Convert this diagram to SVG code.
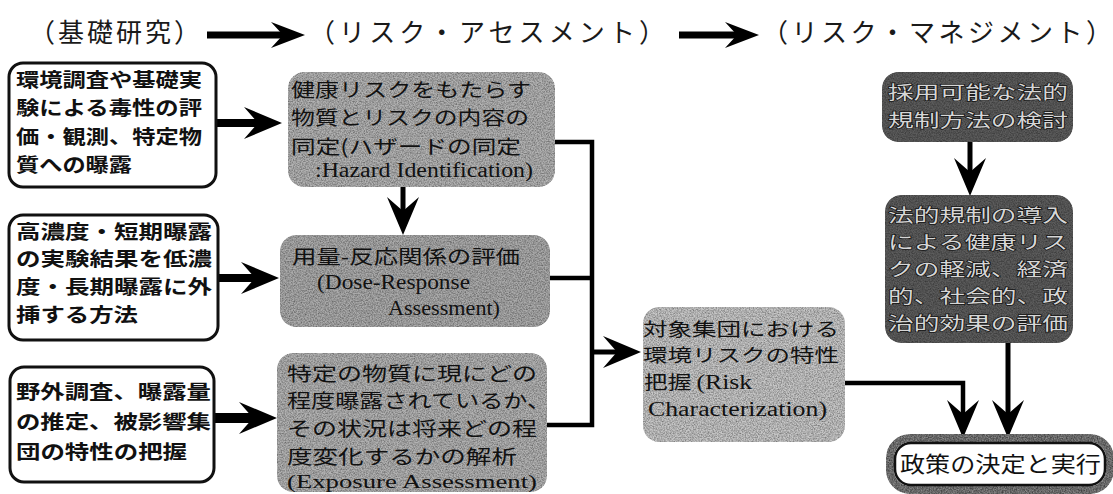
<svg xmlns="http://www.w3.org/2000/svg" width="1113" height="494" viewBox="0 0 1113 494">
<defs>
<style>
.title{font-family:"Noto Sans CJK JP","Noto Sans CJK SC",sans-serif;font-size:26px;fill:#1a1a1a}
.wb{fill:#fff;stroke:#111;stroke-width:3}
.lbt{font-family:"Noto Sans CJK JP","Noto Sans CJK SC",sans-serif;font-size:19.5px;font-weight:700;fill:#111}
.gt{font-family:"Noto Sans CJK JP","Noto Sans CJK SC",sans-serif;font-size:19.5px;fill:#111}
.lat{font-family:"Liberation Serif","Times New Roman",serif;font-size:20px;fill:#111}
.dt{font-family:"Noto Sans CJK JP","Noto Sans CJK SC",sans-serif;font-size:18.5px;fill:#d6d6d6;stroke:#151515;stroke-width:1.4px;paint-order:stroke}
.g1{fill:#b2b2b2}
.g2{fill:#aaaaaa}
.g3{fill:#c6c6c6}
.dk{fill:#5c5c5c}
.ln{fill:none;stroke:#000;stroke-width:4.5}
</style>
<filter id="grain" x="-0.05" y="-0.05" width="1.1" height="1.1" color-interpolation-filters="sRGB">
<feTurbulence type="fractalNoise" baseFrequency="0.75" numOctaves="3" seed="7" result="n"/>
<feColorMatrix in="n" type="matrix" values="0.75 0 0 0 0.5  0.75 0 0 0 0.5  0.75 0 0 0 0.5  0 0 0 0 1" result="g"/>
<feBlend in="SourceGraphic" in2="g" mode="multiply" result="b"/>
<feComposite in="b" in2="SourceAlpha" operator="in"/>
</filter>
<filter id="grainS" x="-0.1" y="-0.4" width="1.2" height="1.8" color-interpolation-filters="sRGB">
<feTurbulence type="fractalNoise" baseFrequency="0.75" numOctaves="3" seed="3" result="n"/>
<feColorMatrix in="n" type="matrix" values="0.9 0 0 0 0.3  0.9 0 0 0 0.3  0.9 0 0 0 0.3  0 0 0 0 1" result="g"/>
<feBlend in="SourceGraphic" in2="g" mode="multiply" result="b"/>
<feComposite in="b" in2="SourceAlpha" operator="in"/>
</filter>
<marker id="ah" markerUnits="userSpaceOnUse" markerWidth="38" markerHeight="32" refX="14" refY="16" orient="auto" viewBox="0 0 38 32">
<path d="M0,0 L38,16 L0,32 L14,16 Z" fill="#000"/>
</marker>
<marker id="th" markerUnits="userSpaceOnUse" markerWidth="34" markerHeight="26" refX="12" refY="13" orient="auto" viewBox="0 0 34 26">
<path d="M0,0 L34,13 L0,26 L12,13 Z" fill="#000"/>
</marker>
</defs>
<rect width="1113" height="494" fill="#fff"/>

<g id="titles">
<text class="title" x="29" y="42" textLength="171" lengthAdjust="spacing">（基礎研究）</text>
<text class="title" x="309" y="42" textLength="356" lengthAdjust="spacing">（リスク・アセスメント）</text>
<text class="title" x="762" y="42" textLength="350" lengthAdjust="spacing">（リスク・マネジメント）</text>
</g>

<g id="connectors">
<line x1="207" y1="35" x2="283" y2="35" stroke="#000" stroke-width="7" marker-end="url(#th)"/>
<line x1="679" y1="35" x2="737" y2="35" stroke="#000" stroke-width="7" marker-end="url(#th)"/>
<line x1="216" y1="123" x2="258" y2="123" stroke="#000" stroke-width="8" marker-end="url(#ah)"/>
<line x1="218" y1="278" x2="255" y2="278" stroke="#000" stroke-width="8" marker-end="url(#ah)"/>
<line x1="213" y1="418" x2="253" y2="418" stroke="#000" stroke-width="10" marker-end="url(#ah)"/>
<line x1="403" y1="187" x2="403" y2="211" stroke="#000" stroke-width="5" marker-end="url(#ah)"/>
<path class="ln" d="M555,142 H592 V425 H547 M550,278 H592"/>
<line x1="592" y1="352" x2="617" y2="352" stroke="#000" stroke-width="5" marker-end="url(#ah)"/>
<path class="ln" d="M845,383 H963 V414" marker-end="url(#ah)"/>
<line x1="1008" y1="343" x2="1008" y2="414" stroke="#000" stroke-width="5" marker-end="url(#ah)"/>
<line x1="970" y1="142" x2="970" y2="172" stroke="#000" stroke-width="5" marker-end="url(#ah)"/>
</g>

<g id="n-survey">
<rect class="wb" x="9" y="63" width="207" height="124" rx="14"/>
<text class="lbt" x="16" y="87" textLength="186" lengthAdjust="spacingAndGlyphs">環境調査や基礎実</text>
<text class="lbt" x="16" y="115" textLength="186" lengthAdjust="spacingAndGlyphs">験による毒性の評</text>
<text class="lbt" x="16" y="144" textLength="186" lengthAdjust="spacingAndGlyphs">価・観測、特定物</text>
<text class="lbt" x="16" y="172" textLength="116" lengthAdjust="spacingAndGlyphs">質への曝露</text>
</g>

<g id="n-extrapolation">
<rect class="wb" x="9" y="215" width="209" height="125" rx="14"/>
<text class="lbt" x="16" y="239" textLength="196" lengthAdjust="spacingAndGlyphs">高濃度・短期曝露</text>
<text class="lbt" x="16" y="266" textLength="196" lengthAdjust="spacingAndGlyphs">の実験結果を低濃</text>
<text class="lbt" x="16" y="294" textLength="196" lengthAdjust="spacingAndGlyphs">度・長期曝露に外</text>
<text class="lbt" x="16" y="322" textLength="122" lengthAdjust="spacingAndGlyphs">挿する方法</text>
</g>

<g id="n-field">
<rect class="wb" x="10" y="367" width="204" height="115" rx="14"/>
<text class="lbt" x="16" y="399" textLength="195" lengthAdjust="spacingAndGlyphs">野外調査、曝露量</text>
<text class="lbt" x="16" y="429" textLength="195" lengthAdjust="spacingAndGlyphs">の推定、被影響集</text>
<text class="lbt" x="16" y="459" textLength="171" lengthAdjust="spacingAndGlyphs">団の特性の把握</text>
</g>

<g id="n-hazard">
<rect class="g1" x="288" y="72" width="267" height="115" rx="16" filter="url(#grain)"/>
<text class="gt" x="291" y="97" textLength="240" lengthAdjust="spacingAndGlyphs">健康リスクをもたらす</text>
<text class="gt" x="291" y="125" textLength="238" lengthAdjust="spacingAndGlyphs">物質とリスクの内容の</text>
<text class="gt" x="291" y="154" textLength="230" lengthAdjust="spacingAndGlyphs">同定(ハザードの同定</text>
<text class="lat" x="315" y="177" textLength="218" lengthAdjust="spacingAndGlyphs">:Hazard Identification)</text>
</g>

<g id="n-dose">
<rect class="g2" x="280" y="235" width="270" height="92" rx="16" filter="url(#grain)"/>
<text class="gt" x="292" y="264" textLength="228" lengthAdjust="spacingAndGlyphs">用量-反応関係の評価</text>
<text class="lat" x="317" y="289" textLength="153" lengthAdjust="spacingAndGlyphs">(Dose-Response</text>
<text class="lat" x="388" y="315" textLength="112" lengthAdjust="spacingAndGlyphs">Assessment)</text>
</g>

<g id="n-exposure">
<rect class="g1" x="277" y="353" width="270" height="139" rx="16" filter="url(#grain)"/>
<text class="gt" x="287" y="381" textLength="250" lengthAdjust="spacingAndGlyphs">特定の物質に現にどの</text>
<text class="gt" x="287" y="408" textLength="264" lengthAdjust="spacingAndGlyphs">程度曝露されているか、</text>
<text class="gt" x="287" y="436" textLength="250" lengthAdjust="spacingAndGlyphs">その状況は将来どの程</text>
<text class="gt" x="287" y="464" textLength="230" lengthAdjust="spacingAndGlyphs">度変化するかの解析</text>
<text class="lat" x="287" y="488" textLength="250" lengthAdjust="spacingAndGlyphs" style="font-size:19px">(Exposure Assessment)</text>
</g>

<g id="n-risk">
<rect class="g3" x="643" y="307" width="202" height="135" rx="16" filter="url(#grain)"/>
<text class="gt" x="643" y="336" textLength="196" lengthAdjust="spacingAndGlyphs" style="font-size:18.5px">対象集団における</text>
<text class="gt" x="643" y="362" textLength="196" lengthAdjust="spacingAndGlyphs" style="font-size:18.5px">環境リスクの特性</text>
<text class="gt" x="644" y="389" textLength="108" lengthAdjust="spacingAndGlyphs" style="font-size:18.5px">把握 <tspan class="lat">(Risk</tspan></text>
<text class="lat" x="648" y="416" textLength="179" lengthAdjust="spacingAndGlyphs">Characterization)</text>
</g>

<g id="n-options">
<rect class="dk" x="882" y="72" width="191" height="70" rx="16" filter="url(#grain)"/>
<text class="dt" x="888" y="99" textLength="180" lengthAdjust="spacingAndGlyphs">採用可能な法的</text>
<text class="dt" x="888" y="127" textLength="180" lengthAdjust="spacingAndGlyphs">規制方法の検討</text>
</g>

<g id="n-evaluation">
<rect class="dk" x="885" y="195" width="188" height="148" rx="16" filter="url(#grain)"/>
<text class="dt" x="888" y="222" textLength="180" lengthAdjust="spacingAndGlyphs">法的規制の導入</text>
<text class="dt" x="888" y="249" textLength="180" lengthAdjust="spacingAndGlyphs">による健康リス</text>
<text class="dt" x="888" y="276" textLength="180" lengthAdjust="spacingAndGlyphs">クの軽減、経済</text>
<text class="dt" x="888" y="303" textLength="180" lengthAdjust="spacingAndGlyphs">的、社会的、政</text>
<text class="dt" x="888" y="330" textLength="180" lengthAdjust="spacingAndGlyphs">治的効果の評価</text>
</g>

<g id="n-policy">
<rect x="890" y="438" width="220" height="52" rx="20" fill="none" stroke="#8a8a8a" stroke-width="8" filter="url(#grainS)"/>
<rect x="895" y="443" width="210" height="42" rx="16" fill="#fff" stroke="#111" stroke-width="2.5"/>
<text class="gt" x="900" y="472" textLength="201" lengthAdjust="spacingAndGlyphs" style="font-size:22px">政策の決定と実行</text>
</g>
</svg>
